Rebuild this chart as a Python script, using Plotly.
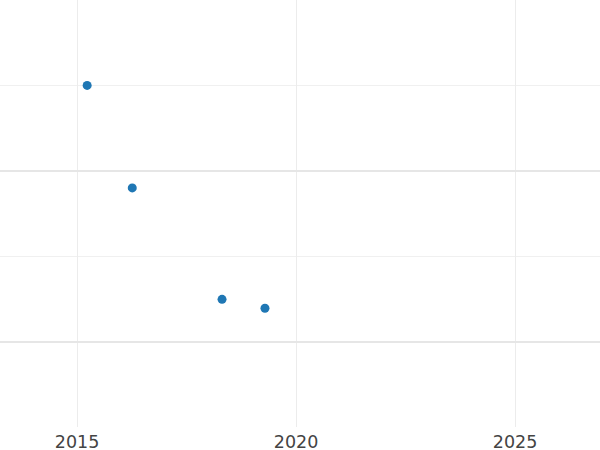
import plotly.graph_objects as go

years = [2015.23, 2016.26, 2018.31, 2019.29]
values = [4.0, 2.80, 1.495, 1.39]
x_ticks = [2015, 2020, 2025]
x_tick_labels = ["2015", "2020", "2025"]

fig = go.Figure(go.Scatter(
    x=years, y=values, mode="markers",
    marker=dict(color="#1f77b4", size=9),
))

fig.update_layout(
    width=600, height=450,
    margin=dict(l=0, r=0, t=0, b=23),
    paper_bgcolor="white", plot_bgcolor="white",
    showlegend=False,
    font=dict(family="DejaVu Sans", size=17.5, color="#444"),
)
fig.update_xaxes(
    range=[2013.24, 2026.94],
    tickvals=x_ticks, ticktext=x_tick_labels,
    showgrid=True, gridcolor="#ececec", gridwidth=1,
    zeroline=False, showline=False, ticks="",
    ticklabelstandoff=2, automargin=False,
)
fig.update_yaxes(
    range=[0, 5],
    tick0=1, dtick=2, showticklabels=False,
    showgrid=True, gridcolor="#e6e6e6", gridwidth=2,
    zeroline=False, showline=False, ticks="",
    minor=dict(tick0=0, dtick=1, showgrid=True, gridcolor="#f0f0f0", gridwidth=1),
)

fig.write_html(
    "out.html",
    config={"displayModeBar": False},
    post_script="document.body.style.margin='0';document.body.style.overflow='hidden';",
)
